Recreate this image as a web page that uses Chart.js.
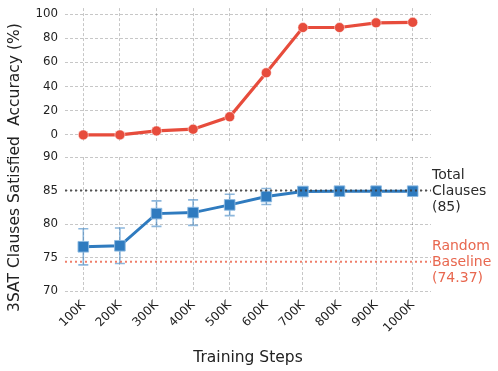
<!DOCTYPE html>
<html>
<head>
<meta charset="utf-8">
<script src="https://cdn.jsdelivr.net/npm/chart.js@4.4.1/dist/chart.umd.min.js"></script>
<style>
  html, body { margin: 0; padding: 0; background: #fff; }
  #wrap { position: relative; width: 498px; height: 371px; overflow: hidden; }
  canvas { position: absolute; left: 0; }
  #topChart { top: -6px; }
  #bottomChart { top: 125px; }
</style>
</head>
<body>
<div id="wrap">
  <canvas id="topChart" width="498" height="161"></canvas>
  <canvas id="bottomChart" width="498" height="246"></canvas>
</div>
<script>
// data
const steps = ['100K', '200K', '300K', '400K', '500K', '600K', '700K', '800K', '900K', '1000K'];
const accuracy = [0, 0, 3.3, 4.7, 15, 51.4, 88.9, 88.9, 92.8, 93.2];
const clauses = [76.6, 76.75, 81.55, 81.7, 82.85, 84.1, 84.85, 84.9, 84.9, 84.9];
const clausesErr = [2.7, 2.65, 1.9, 1.9, 1.6, 1.2, 0.3, 0.2, 0.2, 0.2];
const accTicks = [0, 20, 40, 60, 80, 100];
const clauseTicks = [70, 75, 80, 85, 90];
const totalClauses = 85;
const randomBaseline = 74.37;
const totalLabel = ['Total', 'Clauses', '(85)'];
const randomLabel = ['Random', 'Baseline', '(74.37)'];

const FONT = 'DejaVu Sans';
const RED = '#e74c3c';
const BLUE = '#2f7bbf';
const gridColor = 'rgba(0,0,0,0.28)';

// y title drawn by hand so chart.js doesn't squeeze it to the axis height
const yTitle = {
  id: 'yTitle',
  afterDraw(chart, args, opts) {
    const { ctx, chartArea } = chart;
    ctx.save();
    ctx.translate(15, (chartArea.top + chartArea.bottom) / 2);
    ctx.rotate(-Math.PI / 2);
    ctx.fillStyle = '#222';
    ctx.font = '15.5px "' + FONT + '"';
    ctx.textAlign = 'center';
    ctx.textBaseline = 'middle';
    ctx.fillText(opts.text, 0, 0);
    ctx.restore();
  }
};

function yAxis(min, max, ticks) {
  return {
    min: min, max: max,
    afterBuildTicks: s => { s.ticks = ticks.map(v => ({ value: v })); },
    afterFit: s => { s.width = 65; },
    grid: { color: gridColor, lineWidth: 0.8, drawTicks: false },
    border: { display: false, dash: [3, 2] },
    ticks: { color: '#222', font: { family: FONT, size: 11.8 }, padding: 7 }
  };
}

// top chart: accuracy
new Chart(document.getElementById('topChart'), {
  type: 'line',
  data: {
    labels: steps,
    datasets: [{
      data: accuracy,
      borderColor: RED,
      backgroundColor: RED,
      borderWidth: 3.2,
      pointRadius: 5,
      pointBorderWidth: 1,
      pointBorderColor: 'rgba(255,255,255,0.5)',
      clip: false
    }]
  },
  options: {
    responsive: false,
    animation: false,
    layout: { padding: { top: 7, bottom: 2, left: 0, right: 67 } },
    plugins: { legend: { display: false }, tooltip: { enabled: false }, yTitle: { text: 'Accuracy (%)' } },
    scales: {
      x: {
        offset: true,
        afterFit: s => { s.height = 0; },
        grid: { color: gridColor, lineWidth: 0.8, drawTicks: false, offset: false },
        border: { display: false, dash: [3, 2] },
        ticks: { display: false }
      },
      y: yAxis(-5, 105, accTicks)
    }
  },
  plugins: [yTitle]
});

// error bars + reference lines for bottom chart
const bottomExtras = {
  id: 'bottomExtras',
  beforeDatasetsDraw(chart) {
    const { ctx, scales: { x, y } } = chart;
    ctx.save();
    ctx.strokeStyle = 'rgba(47,123,191,0.55)';
    ctx.lineWidth = 1.6;
    clauses.forEach((v, i) => {
      const px = x.getPixelForValue(i);
      const hi = y.getPixelForValue(v + clausesErr[i]);
      const lo = y.getPixelForValue(v - clausesErr[i]);
      ctx.beginPath();
      ctx.moveTo(px, hi); ctx.lineTo(px, lo);
      ctx.moveTo(px - 5, hi); ctx.lineTo(px + 5, hi);
      ctx.moveTo(px - 5, lo); ctx.lineTo(px + 5, lo);
      ctx.stroke();
    });
    ctx.restore();
  },
  afterDatasetsDraw(chart) {
    const { ctx, chartArea, scales: { y } } = chart;
    const refs = [
      { v: totalClauses, line: 'rgba(60,60,60,0.85)', text: '#2b2b2b', label: totalLabel },
      { v: randomBaseline, line: 'rgba(236,105,80,0.85)', text: '#e8674f', label: randomLabel }
    ];
    ctx.save();
    refs.forEach(r => {
      const py = y.getPixelForValue(r.v);
      ctx.strokeStyle = r.line;
      ctx.lineWidth = 2;
      ctx.setLineDash([2, 3]);
      ctx.beginPath();
      ctx.moveTo(chartArea.left, py);
      ctx.lineTo(chartArea.right, py);
      ctx.stroke();
      ctx.setLineDash([]);
      ctx.fillStyle = r.text;
      ctx.font = '14px "' + FONT + '"';
      ctx.textBaseline = 'middle';
      ctx.textAlign = 'left';
      r.label.forEach((t, k) => {
        ctx.fillText(t, chartArea.right + 1, py + 1 + (k - 1) * 16);
      });
    });
    ctx.restore();
  }
};

// bottom chart: clauses satisfied
new Chart(document.getElementById('bottomChart'), {
  type: 'line',
  data: {
    labels: steps,
    datasets: [{
      data: clauses,
      borderColor: BLUE,
      backgroundColor: BLUE,
      borderWidth: 3,
      pointStyle: 'rect',
      pointRadius: 7.5,
      pointBorderWidth: 1,
      pointBorderColor: 'rgba(140,185,225,0.9)',
      clip: false
    }]
  },
  options: {
    responsive: false,
    animation: false,
    layout: { padding: { top: 32, bottom: 0, left: 0, right: 67 } },
    plugins: { legend: { display: false }, tooltip: { enabled: false }, yTitle: { text: '3SAT Clauses Satisfied' } },
    scales: {
      x: {
        offset: true,
        afterFit: s => { s.height = 80; },
        grid: { color: gridColor, lineWidth: 0.8, drawTicks: false, offset: false },
        border: { display: false, dash: [3, 2] },
        ticks: { color: '#222', font: { family: FONT, size: 12 }, padding: 7, minRotation: 45, maxRotation: 45, autoSkip: false },
        title: { display: true, text: 'Training Steps', color: '#222', font: { family: FONT, size: 15.5 }, padding: { top: 0, bottom: 4 } }
      },
      y: yAxis(70, 90, clauseTicks)
    }
  },
  plugins: [bottomExtras, yTitle]
});
</script>
</body>
</html>
